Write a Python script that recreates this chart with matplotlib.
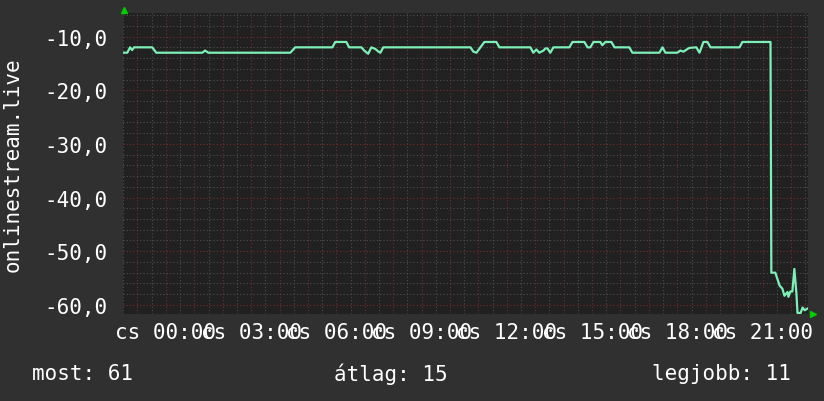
import matplotlib
matplotlib.use('Agg')
import matplotlib.pyplot as plt
from matplotlib.ticker import MultipleLocator

# hours relative to midnight (thursday)
hours = [-1.47, -1.36, -1.26, -1.19, -1.12, -0.48, -0.34, 1.28, 1.38, 1.49,
         4.38, 4.55, 5.86, 5.96, 6.35, 6.45, 6.88, 6.98, 7.12, 7.23,
         7.37, 7.48, 7.55, 7.65, 10.72, 10.82, 10.93, 11.07, 11.21, 11.63,
         11.74, 12.83, 12.93, 13.04, 13.14, 13.29, 13.36, 13.43, 13.53, 13.64,
         14.20, 14.31, 14.73, 14.84, 14.94, 15.05, 15.29, 15.36, 15.47, 15.68,
         15.79, 16.31, 16.42, 17.37, 17.48, 17.58, 18.00, 18.11, 18.22, 18.36,
         18.43, 18.67, 18.78, 18.92, 19.06, 19.17, 20.19, 20.29, 21.28, 21.31,
         21.45, 21.60, 21.70, 21.77, 21.88, 21.91, 21.98, 22.05, 22.12, 22.19,
         22.23, 22.34, 22.41, 22.48, 22.58]
values = [-13, -13, -12, -12.5, -12, -12, -13, -13, -12.6, -13,
          -13, -12, -12, -11, -11, -12, -12, -12.6, -13.2, -12,
          -12.3, -12.8, -13, -12, -12, -12.8, -13, -12, -11, -11,
          -12, -12, -13, -12.4, -13, -12.6, -12.2, -12.2, -13, -12,
          -12, -11, -11, -12, -12, -11, -11, -11.6, -11, -11,
          -12, -12, -13, -13, -12, -13, -13, -12.6, -12.8, -12.3,
          -12.1, -12, -13, -11, -11, -12, -12, -11, -11, -54,
          -54, -56.4, -57, -58.3, -57.6, -58.5, -57.5, -57.5, -53.3, -57.7,
          -61.5, -61.5, -60.5, -61, -60.7]

tick_hours = [0, 3, 6, 9, 12, 15, 18, 21]
tick_labels = ['cs %02d:00' % h for h in tick_hours]
ylabel = 'onlinestream.live'
legend_items = [('most: 61', 'left'), ('átlag: 15', 'center'), ('legjobb: 11', 'right')]

mono = 'DejaVu Sans Mono'
fs = 15

fig = plt.figure(figsize=(8.24, 4.02), dpi=100, facecolor='#303030')
ax = fig.add_axes([123 / 824, 87 / 402, 685 / 824, 301 / 402], facecolor='#212121')

ax.plot(hours, values, color='#7DF0B8', lw=1.6, zorder=3)

ax.set_xlim(-1.51, 22.6)
ax.set_ylim(-61.7, -5.6)

# grid like rrdtool: minor grey, major red
ax.xaxis.set_major_locator(MultipleLocator(1))
ax.xaxis.set_minor_locator(MultipleLocator(0.5))
ax.yaxis.set_major_locator(MultipleLocator(10))
ax.yaxis.set_minor_locator(MultipleLocator(2))
ax.grid(which='minor', color='#4e4e4e', lw=0.8, ls=(0, (1, 2)))
ax.grid(which='major', color='#742c2c', lw=0.8, ls=(0, (1, 2)))
ax.set_axisbelow(True)

ax.set_xticklabels([])
for h, lab in zip(tick_hours, tick_labels):
    ax.text(h, -0.025, lab, transform=ax.get_xaxis_transform(), ha='center', va='top',
            color='white', fontsize=fs, family=mono)

ax.set_yticks([-10, -20, -30, -40, -50, -60])
ax.set_yticklabels(['-10,0', '-20,0', '-30,0', '-40,0', '-50,0', '-60,0'],
                   color='white', fontsize=fs, family=mono)
ax.tick_params(which='both', length=0, pad=11.5)
ax.tick_params(axis='x', pad=0)

for s in ax.spines.values():
    s.set_visible(False)

# rrdtool arrows
ax.plot([0.002], [1.01], marker='^', color='#00cc00', ms=5, transform=ax.transAxes, clip_on=False)
ax.plot([1.007], [0], marker='>', color='#00cc00', ms=5, transform=ax.transAxes, clip_on=False)

fig.text(13 / 824, 0.59, ylabel, rotation=90, ha='center', va='center',
         color='white', fontsize=fs, family=mono)

xpos = {'left': 32 / 824, 'center': 391 / 824, 'right': 791 / 824}
for txt, al in legend_items:
    fig.text(xpos[al], 28 / 402, txt, ha=al, va='center', color='white', fontsize=fs, family=mono)

fig.savefig('out.png', dpi=100, facecolor=fig.get_facecolor())
